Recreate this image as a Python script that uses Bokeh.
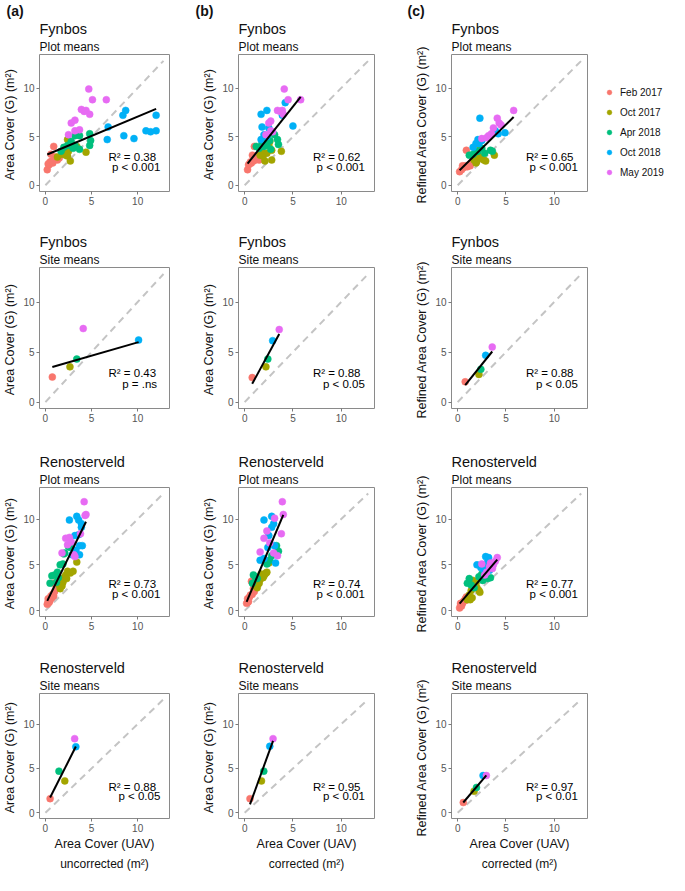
from bokeh.plotting import figure
from bokeh.models import Range1d, FixedTicker, Label, Title, Legend, LegendItem
from bokeh.layouts import row, column
from bokeh.embed import file_html
from bokeh.resources import INLINE

# ---------------- data ----------------
SERIES = ["Feb 2017", "Oct 2017", "Apr 2018", "Oct 2018", "May 2019"]
COLORS = ["#F8766D", "#A3A500", "#00BF7D", "#00B0F6", "#E76BF3"]

VEG = ["Fynbos", "Fynbos", "Renosterveld", "Renosterveld"]
LEVEL = ["Plot means", "Site means", "Plot means", "Site means"]
PANEL_TAGS = ["(a)", "(b)", "(c)"]
Y_TITLES = ["Area Cover (G)  (m²)", "Area Cover (G)  (m²)", "Refined Area Cover (G)  (m²)"]
X_TITLE = "Area Cover (UAV)"
X_CAPTIONS = ["uncorrected (m²)", "corrected (m²)", "corrected (m²)"]
TICKS = [0, 5, 10]
DIAG = [0, 12.8]

# Fynbos plot means, uncorrected (a)
A1_X = [[0.2, 0.4, 0.5, 0.7, 0.9, 0.6, 0.9, 1.1, 1.3, 1.5, 0.3, 0.8],
        [1.3, 1.8, 2.2, 2.4, 2.5, 2.7, 2.4, 3.2, 3.4, 4.4, 2.0],
        [1.7, 2.0, 2.4, 3.2, 3.2, 3.7, 3.7, 4.8, 4.8, 4.9, 2.8, 3.0],
        [6.8, 6.7, 8.4, 8.7, 8.5, 9.6, 10.9, 11.4, 12.0, 12.0],
        [4.7, 5.1, 6.6, 3.9, 4.2, 4.4, 4.8, 2.8, 3.2, 3.2, 3.7, 2.5]]
A1_Y = [[1.6, 2.1, 2.4, 2.5, 2.6, 3.2, 4.0, 2.9, 2.6, 2.8, 2.2, 2.3],
        [2.9, 3.2, 3.1, 3.0, 3.5, 2.5, 4.7, 4.0, 4.0, 3.4, 3.3],
        [3.5, 3.9, 4.1, 5.1, 4.1, 5.1, 3.7, 5.3, 4.1, 4.6, 4.5, 3.8],
        [6.0, 4.7, 7.2, 7.7, 5.1, 4.8, 5.6, 5.5, 5.6, 7.2],
        [9.9, 8.8, 8.8, 7.8, 7.6, 7.7, 7.3, 6.4, 6.7, 5.6, 5.7, 5.2]]
# Fynbos plot means, corrected (b)
B1_X = [[0.3, 0.4, 0.6, 1.0, 0.8, 1.1, 1.3, 1.5, 0.7, 0.5, 1.2, 0.9],
        [1.6, 1.8, 1.9, 2.1, 2.8, 2.8, 3.8, 2.5, 2.1, 2.6, 2.3],
        [1.2, 1.5, 2.0, 2.3, 2.3, 2.7, 3.1, 3.4, 3.5, 2.6, 1.8, 2.9],
        [1.7, 2.3, 1.8, 2.5, 1.7, 3.9, 4.2, 5.0, 2.3, 2.0],
        [4.1, 4.5, 5.8, 3.4, 3.7, 3.9, 2.5, 2.7, 2.7, 2.9, 2.2, 4.0]]
B1_Y = [[1.6, 2.1, 2.4, 4.0, 3.1, 2.6, 2.8, 2.6, 2.3, 2.2, 3.0, 2.5],
        [3.1, 3.4, 3.0, 2.5, 2.6, 3.6, 3.5, 4.1, 4.7, 4.5, 3.3],
        [4.0, 3.8, 4.0, 5.1, 4.2, 3.7, 5.2, 4.7, 4.2, 4.6, 4.3, 5.4],
        [7.3, 7.7, 6.0, 5.9, 4.7, 7.2, 8.5, 6.1, 5.0, 5.2],
        [9.9, 8.8, 8.8, 7.7, 7.6, 7.7, 6.4, 6.6, 5.6, 5.5, 5.2, 7.3]]
# Fynbos plot means, refined (c)
C1_X = [[0.2, 0.4, 0.5, 0.9, 1.2, 1.4, 0.8, 1.0, 0.6, 1.3],
        [1.9, 2.0, 2.1, 2.7, 2.9, 3.8, 1.7, 2.4, 2.2],
        [1.2, 1.6, 2.1, 2.5, 3.4, 3.6, 1.9, 2.8],
        [2.3, 1.6, 1.9, 2.1, 2.5, 3.9, 4.9, 4.2, 2.2],
        [5.8, 4.1, 4.3, 4.5, 3.7, 3.2, 2.5, 3.0, 3.5]]
C1_Y = [[1.4, 1.6, 2.0, 3.6, 2.1, 2.3, 2.0, 1.9, 1.8, 2.0],
        [2.3, 2.5, 4.2, 2.6, 2.5, 3.1, 2.6, 2.8, 3.0],
        [3.1, 3.2, 3.5, 3.8, 3.6, 3.5, 3.45, 3.3],
        [6.9, 3.9, 4.3, 4.7, 4.6, 5.6, 5.4, 5.3, 4.3],
        [7.7, 6.9, 6.4, 6.2, 5.9, 5.1, 4.8, 4.9, 5.3]]
# Fynbos site means
A2_X = [[0.75], [2.66], [3.4], [10.1], [4.1]]
A2_Y = [[2.5], [3.52], [4.3], [6.2], [7.35]]
B2_X = [[0.78], [2.2], [2.4], [2.9], [3.58]]
B2_Y = [[2.45], [3.52], [4.3], [6.14], [7.25]]
C2_X = [[0.78], [2.2], [2.4], [2.9], [3.58]]
C2_Y = [[2.03], [2.77], [3.27], [4.67], [5.5]]
# Renosterveld plot means
A3_X = [[0.2, 0.3, 0.3, 0.5, 0.6, 0.8, 1.0, 0.9, 0.4, 0.7, 0.9, 1.2],
        [1.5, 1.6, 1.7, 1.9, 2.0, 2.2, 2.4, 2.7, 3.0, 3.4, 1.8, 2.3],
        [0.5, 0.7, 1.0, 1.3, 1.4, 1.9, 2.0, 2.5, 2.1, 1.2, 2.7, 1.6],
        [2.6, 3.4, 3.6, 3.9, 3.9, 3.2, 3.6, 3.7, 4.0, 3.7, 2.9, 3.3],
        [4.2, 4.4, 4.3, 2.6, 2.4, 3.2, 1.8, 3.1, 3.8, 2.2, 2.8]]
A3_Y = [[0.7, 1.0, 1.3, 1.1, 1.6, 1.8, 2.1, 1.6, 0.9, 1.4, 3.0, 2.5],
        [2.8, 2.4, 3.3, 3.1, 3.6, 3.9, 4.3, 4.1, 4.3, 5.3, 2.7, 3.5],
        [3.0, 3.8, 3.9, 4.2, 3.6, 5.1, 6.2, 7.0, 6.3, 3.1, 6.9, 5.0],
        [9.9, 10.3, 9.9, 9.1, 9.5, 8.2, 8.3, 7.1, 7.1, 6.1, 6.1, 6.6],
        [11.9, 10.5, 10.4, 8.0, 7.2, 5.9, 6.3, 6.1, 8.4, 7.9, 7.5]]
B3_X = [[0.2, 0.3, 0.4, 0.5, 0.8, 1.0, 0.7, 0.6, 0.9, 0.3],
        [1.1, 1.3, 1.5, 1.6, 1.7, 2.0, 2.2, 2.3, 2.5, 1.9, 1.4, 2.1],
        [0.9, 0.8, 1.1, 2.3, 2.6, 3.3, 3.5, 3.2, 1.3, 2.8],
        [2.0, 2.8, 3.0, 2.8, 2.5, 1.6, 2.0, 3.2, 2.4, 3.1],
        [3.9, 4.0, 3.8, 3.1, 2.0, 2.3, 1.6, 3.0, 3.4, 2.6]]
B3_Y = [[0.8, 1.3, 1.0, 1.5, 1.8, 2.1, 3.2, 1.7, 2.4, 0.9],
        [2.7, 2.5, 3.0, 3.4, 4.0, 3.8, 4.1, 4.2, 5.2, 3.6, 2.9, 4.0],
        [3.9, 3.0, 3.7, 5.1, 5.5, 7.1, 6.5, 6.3, 3.5, 6.0],
        [9.9, 10.3, 9.5, 9.1, 8.2, 5.5, 5.7, 5.2, 6.9, 7.1],
        [11.9, 10.5, 8.4, 10.1, 7.9, 8.7, 6.4, 6.3, 6.0, 7.4]]
C3_X = [[0.2, 0.3, 0.5, 0.6, 0.8, 0.9, 0.4, 0.7, 1.0, 0.3],
        [1.0, 1.2, 1.4, 1.6, 1.8, 2.0, 2.2, 1.5, 1.9, 2.3, 1.3],
        [1.0, 1.2, 1.4, 2.2, 2.6, 3.1, 3.4, 2.5, 1.7, 2.9],
        [2.9, 3.2, 2.0, 2.5, 3.1, 2.7, 3.3, 2.4, 3.0, 3.5],
        [4.1, 3.9, 3.7, 2.5, 3.4, 3.6, 3.0, 2.8, 3.3]]
C3_Y = [[0.3, 0.6, 0.8, 1.0, 1.3, 1.5, 0.5, 1.1, 1.2, 0.8],
        [1.2, 1.7, 2.2, 3.3, 2.7, 2.5, 2.2, 1.4, 3.0, 2.0, 1.2],
        [3.0, 3.5, 2.8, 3.7, 3.3, 3.5, 3.6, 4.0, 2.5, 4.4],
        [5.9, 5.8, 5.0, 5.0, 5.3, 4.5, 4.4, 4.7, 4.9, 5.1],
        [5.8, 5.4, 5.0, 5.1, 5.2, 4.6, 4.2, 3.9, 4.8]]
# Renosterveld site means
A4_X = [[0.51], [2.1], [1.47], [3.3], [3.17]]
A4_Y = [[1.6], [3.6], [4.7], [7.45], [8.36]]
B4_X = [[0.55], [1.74], [1.98], [2.6], [2.94]]
B4_Y = [[1.6], [3.6], [4.7], [7.5], [8.36]]
C4_X = [[0.58], [1.7], [1.95], [2.63], [2.97]]
C4_Y = [[1.16], [2.43], [2.86], [4.2], [4.2]]

# regression fits (rows x columns a,b,c)
FIT_SLOPE = [[0.397, 1.25, 0.978],
             [0.266, 1.78, 1.20],
             [2.06, 2.50, 1.23],
             [2.06, 3.00, 1.28]]
FIT_INTERCEPT = [[3.09, 1.84, 1.35],
                 [3.31, 0.44, 0.76],
                 [0.65, 0.46, 0.53],
                 [0.67, -0.70, 0.42]]
R2_TEXT = [["0.38", "0.62", "0.65"],
           ["0.43", "0.88", "0.88"],
           ["0.73", "0.74", "0.77"],
           ["0.88", "0.95", "0.97"]]
P_TEXT = [["p < 0.001", "p < 0.001", "p < 0.001"],
          ["p = .ns", "p < 0.05", "p < 0.05"],
          ["p < 0.001", "p < 0.001", "p < 0.001"],
          ["p < 0.05", "p < 0.01", "p < 0.01"]]

PANEL_X = [[A1_X, B1_X, C1_X], [A2_X, B2_X, C2_X], [A3_X, B3_X, C3_X], [A4_X, B4_X, C4_X]]
PANEL_Y = [[A1_Y, B1_Y, C1_Y], [A2_Y, B2_Y, C2_Y], [A3_Y, B3_Y, C3_Y], [A4_Y, B4_Y, C4_Y]]

# ---------------- styling / layout ----------------
FONT = "Liberation Sans"
FRAME_W = 136
BORDER_LEFT = [33, 43, 49]
BORDER_RIGHT = [26, 28, 81]
LEGEND_W = 79
BORDER_TOP = [50, 49, 50, 48]
FRAME_H = [141, 141, 129, 129]
BORDER_BOTTOM = [27, 29, 29, 50]
TAG_OFFSET = [-33, -43, -44]


def make_panel(r, c):
    right = BORDER_RIGHT[c]
    if r == 0 and c == 2:
        right = BORDER_RIGHT[c] - LEGEND_W
    width = BORDER_LEFT[c] + FRAME_W + right
    height = BORDER_TOP[r] + FRAME_H[r] + BORDER_BOTTOM[r]
    p = figure(width=width, height=height, output_backend="svg",
               toolbar_location=None, title=None,
               x_range=Range1d(-0.64, 13.45), y_range=Range1d(-0.64, 13.45),
               min_border_left=BORDER_LEFT[c], min_border_right=right,
               min_border_top=BORDER_TOP[r], min_border_bottom=BORDER_BOTTOM[r])
    p.background_fill_color = "white"
    p.border_fill_color = "white"
    p.outline_line_color = "#8a8a8a"
    p.outline_line_width = 1
    p.grid.visible = False
    for ax in (p.xaxis[0], p.yaxis[0]):
        ax.ticker = FixedTicker(ticks=TICKS)
        ax.axis_line_color = None
        ax.minor_tick_line_color = None
        ax.major_tick_line_color = "#7a7a7a"
        ax.major_tick_out = 3
        ax.major_tick_in = 0
        ax.major_label_text_font = FONT
        ax.major_label_text_font_size = "10px"
        ax.major_label_text_color = "#555555"
        ax.major_label_standoff = 2
        ax.axis_label_text_font = FONT
        ax.axis_label_text_font_style = "normal"
        ax.axis_label_text_color = "#111111"
    p.yaxis.axis_label = Y_TITLES[c]
    p.yaxis.axis_label_text_font_size = "12.5px"
    p.yaxis.axis_label_standoff = 3
    if r == 3:
        p.xaxis.axis_label = X_TITLE
        p.xaxis.axis_label_text_font_size = "12.5px"
        p.xaxis.axis_label_standoff = 2
        p.add_layout(Title(text=X_CAPTIONS[c], align="center", text_font=FONT,
                           text_font_size="12px", text_font_style="normal",
                           text_color="#111111", standoff=3), "below")

    # titles (first added is closest to the plot)
    p.add_layout(Title(text=LEVEL[r], align="left", text_font=FONT, text_font_size="12px",
                       text_font_style="normal", text_color="#111111", standoff=2), "above")
    p.add_layout(Title(text=VEG[r], align="left", text_font=FONT, text_font_size="14.5px",
                       text_font_style="normal", text_color="#111111", standoff=0), "above")
    if r == 0:
        p.add_layout(Title(text=PANEL_TAGS[c], align="left", text_font=FONT, text_font_size="14px",
                           text_font_style="bold", text_color="#111111", standoff=0,
                           offset=TAG_OFFSET[c]), "above")

    # 1:1 dashed line
    p.line(DIAG, DIAG, line_color="#c4c4c4", line_width=2, line_dash="7 5")

    xs, ys = PANEL_X[r][c], PANEL_Y[r][c]
    for k in range(len(SERIES)):
        p.scatter(xs[k], ys[k], size=7, fill_color=COLORS[k],
                  line_color=COLORS[k], line_width=0.5)
    allx = [v for s in xs for v in s]
    x0, x1 = min(allx), max(allx)
    m, b = FIT_SLOPE[r][c], FIT_INTERCEPT[r][c]
    p.line([x0, x1], [b + m * x0, b + m * x1], line_color="black", line_width=2)

    p.add_layout(Label(x=12.0, y=2.95, text="R² = " + R2_TEXT[r][c], text_align="right",
                       text_baseline="middle", text_font=FONT, text_font_size="11.5px",
                       text_color="black"))
    px = 12.1 if "ns" in P_TEXT[r][c] else 12.45
    p.add_layout(Label(x=px, y=1.85, text=P_TEXT[r][c], text_align="right",
                       text_baseline="middle", text_font=FONT, text_font_size="11.5px",
                       text_color="black"))
    return p


def make_legend_panel(height):
    # legend-only canvas: the series are drawn outside its (empty) view window
    lp = figure(width=LEGEND_W, height=height, output_backend="svg", toolbar_location=None,
                title=None, x_axis_location=None, y_axis_location=None,
                x_range=Range1d(-100, -99), y_range=Range1d(-100, -99),
                min_border_left=0, min_border_right=0, min_border_top=0, min_border_bottom=0)
    lp.outline_line_color = None
    lp.grid.visible = False
    items = []
    for k, (s, col) in enumerate(zip(SERIES, COLORS)):
        rr = lp.scatter(C1_X[k], C1_Y[k], size=7, fill_color=col, line_color=col, line_width=0.5)
        items.append(LegendItem(label=s, renderers=[rr]))
    legend = Legend(items=items, location=(14, 13), orientation="vertical",
                    label_text_font=FONT, label_text_font_size="10px",
                    label_text_color="#111111",
                    glyph_width=12, glyph_height=12, label_height=12,
                    label_standoff=5, spacing=8, padding=4, margin=0,
                    border_line_color=None, background_fill_alpha=0)
    lp.add_layout(legend)
    return lp


rows = []
for r in range(4):
    figs = [make_panel(r, c) for c in range(3)]
    if r == 0:
        figs.append(make_legend_panel(BORDER_TOP[0] + FRAME_H[0] + BORDER_BOTTOM[0]))
    rows.append(row(figs))
layout = column(rows)

open("out.html", "w").write(file_html(layout, INLINE))
